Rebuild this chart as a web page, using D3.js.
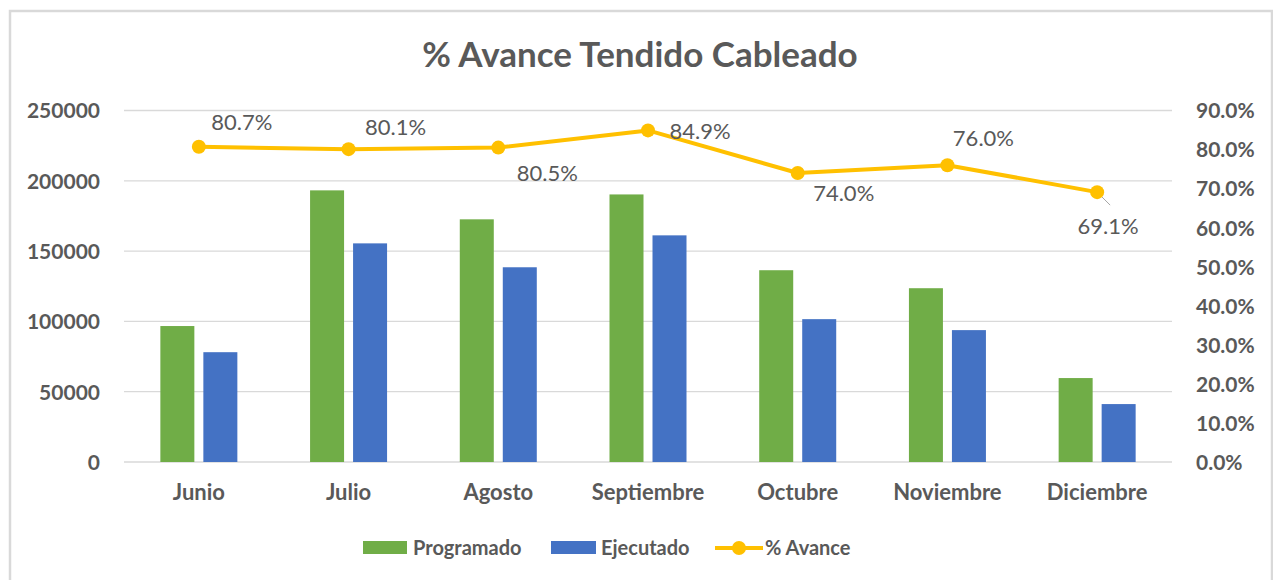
<!DOCTYPE html>
<html>
<head>
<meta charset="utf-8">
<script src="https://cdn.jsdelivr.net/npm/d3@7"></script>
<style>
  body { margin: 0; background: #fff; }
  text { font-family: Lato, "Open Sans", sans-serif; fill: #595959; }
</style>
</head>
<body>
<svg id="chart" width="1273" height="580"></svg>
<script>
// Data
var months = ["Junio", "Julio", "Agosto", "Septiembre", "Octubre", "Noviembre", "Diciembre"];
var programado = [96700, 193200, 172600, 190300, 136400, 123600, 59700];
var ejecutado = [78100, 155500, 138500, 161200, 101600, 93800, 41200];
var avance = [0.807, 0.801, 0.805, 0.849, 0.740, 0.760, 0.691];
var leftTicks = [0, 50000, 100000, 150000, 200000, 250000];
var rightTicks = [0, 0.1, 0.2, 0.3, 0.4, 0.5, 0.6, 0.7, 0.8, 0.9];
// label placement for each % point (dx, dy relative to the marker)
var labelPos = [[43, -25], [47, -22], [49, 26], [52, 1], [46, 20], [36, -27], [11, 34]];

var svg = d3.select("#chart");

// Outer frame
svg.append("rect")
    .attr("x", 10).attr("y", 11)
    .attr("width", 1262).attr("height", 600)
    .attr("fill", "#fff")
    .attr("stroke", "#d9d9d9")
    .attr("stroke-width", 2.5);

// Plot area bounds
var plotL = 124, plotR = 1172, plotT = 110.5, plotB = 462;

var x = d3.scaleBand().domain(months).range([plotL, plotR]);
var yLeft = d3.scaleLinear().domain([0, 250000]).range([plotB, plotT]);
var yRight = d3.scaleLinear().domain([0, 0.9]).range([plotB, plotT]);

// Title
svg.append("text")
    .attr("x", 640).attr("y", 67)
    .attr("text-anchor", "middle")
    .style("font-size", "35px")
    .style("font-weight", "bold")
    .text("% Avance Tendido Cableado");

// Gridlines
svg.append("g")
    .selectAll("line")
    .data(leftTicks)
    .enter()
    .append("line")
    .attr("x1", plotL).attr("x2", plotR)
    .attr("y1", d => yLeft(d)).attr("y2", d => yLeft(d))
    .attr("stroke", "#d9d9d9")
    .attr("stroke-width", 1.3);

// Left axis
var axL = svg.append("g")
    .attr("transform", "translate(" + (plotL - 21) + ",0)")
    .call(d3.axisLeft(yLeft).tickValues(leftTicks).tickSize(0).tickFormat(d3.format("d")));
axL.select(".domain").remove();
axL.selectAll("text")
    .style("font-size", "21px").style("font-weight", "bold")
    .attr("fill", "#595959").attr("dy", "0.35em");

// Right axis
var axR = svg.append("g")
    .attr("transform", "translate(" + (plotR + 21) + ",0)")
    .call(d3.axisRight(yRight).tickValues(rightTicks).tickSize(0).tickFormat(d3.format(".1%")));
axR.select(".domain").remove();
axR.selectAll("text")
    .style("font-size", "21px").style("font-weight", "bold")
    .attr("fill", "#595959").attr("dy", "0.35em");

// Bottom axis labels
var axB = svg.append("g")
    .attr("transform", "translate(0," + plotB + ")")
    .call(d3.axisBottom(x).tickSize(0).tickPadding(22));
axB.select(".domain").remove();
axB.selectAll("text")
    .style("font-size", "22px").style("font-weight", "bold")
    .attr("fill", "#595959");

// Bars
var barW = 34, gap = 9;
svg.append("g")
    .selectAll("rect")
    .data(programado)
    .enter()
    .append("rect")
    .attr("x", (d, i) => x(months[i]) + x.bandwidth() / 2 - gap / 2 - barW)
    .attr("y", d => yLeft(d))
    .attr("width", barW)
    .attr("height", d => plotB - yLeft(d))
    .attr("fill", "#70ad47");

svg.append("g")
    .selectAll("rect")
    .data(ejecutado)
    .enter()
    .append("rect")
    .attr("x", (d, i) => x(months[i]) + x.bandwidth() / 2 + gap / 2)
    .attr("y", d => yLeft(d))
    .attr("width", barW)
    .attr("height", d => plotB - yLeft(d))
    .attr("fill", "#4472c4");

// % Avance line
var cx = (d, i) => x(months[i]) + x.bandwidth() / 2;
var line = d3.line()
    .x((d, i) => cx(d, i))
    .y(d => yRight(d));

svg.append("path")
    .datum(avance)
    .attr("fill", "none")
    .attr("stroke", "#ffc000")
    .attr("stroke-width", 4)
    .attr("stroke-linejoin", "round")
    .attr("d", line);

// leader line for the last label
var last = avance.length - 1;
svg.append("line")
    .attr("x1", cx(avance[last], last) + 3).attr("y1", yRight(avance[last]) + 3)
    .attr("x2", cx(avance[last], last) + 13).attr("y2", yRight(avance[last]) + 13)
    .attr("stroke", "#a6a6a6").attr("stroke-width", 1);

svg.append("g")
    .selectAll("circle")
    .data(avance)
    .enter()
    .append("circle")
    .attr("cx", (d, i) => cx(d, i))
    .attr("cy", d => yRight(d))
    .attr("r", 7)
    .attr("fill", "#ffc000");

svg.append("g")
    .selectAll("text")
    .data(avance)
    .enter()
    .append("text")
    .attr("x", (d, i) => cx(d, i) + labelPos[i][0])
    .attr("y", (d, i) => yRight(d) + labelPos[i][1])
    .attr("text-anchor", "middle")
    .attr("dy", "0.35em")
    .style("font-size", "22px")
    .text(d => d3.format(".1%")(d));

// Legend
var legend = svg.append("g");
legend.append("rect").attr("x", 363).attr("y", 541).attr("width", 44).attr("height", 13).attr("fill", "#70ad47");
legend.append("text").attr("x", 413).attr("y", 548).attr("dy", "0.35em")
    .style("font-size", "20px").style("font-weight", "bold").text("Programado");
legend.append("rect").attr("x", 551).attr("y", 541).attr("width", 45).attr("height", 13).attr("fill", "#4472c4");
legend.append("text").attr("x", 601).attr("y", 548).attr("dy", "0.35em")
    .style("font-size", "20px").style("font-weight", "bold").text("Ejecutado");
legend.append("line").attr("x1", 715).attr("x2", 763).attr("y1", 548).attr("y2", 548)
    .attr("stroke", "#ffc000").attr("stroke-width", 4);
legend.append("circle").attr("cx", 739).attr("cy", 548).attr("r", 7).attr("fill", "#ffc000");
legend.append("text").attr("x", 765).attr("y", 548).attr("dy", "0.35em")
    .style("font-size", "20px").style("font-weight", "bold").text("% Avance");
</script>
</body>
</html>
